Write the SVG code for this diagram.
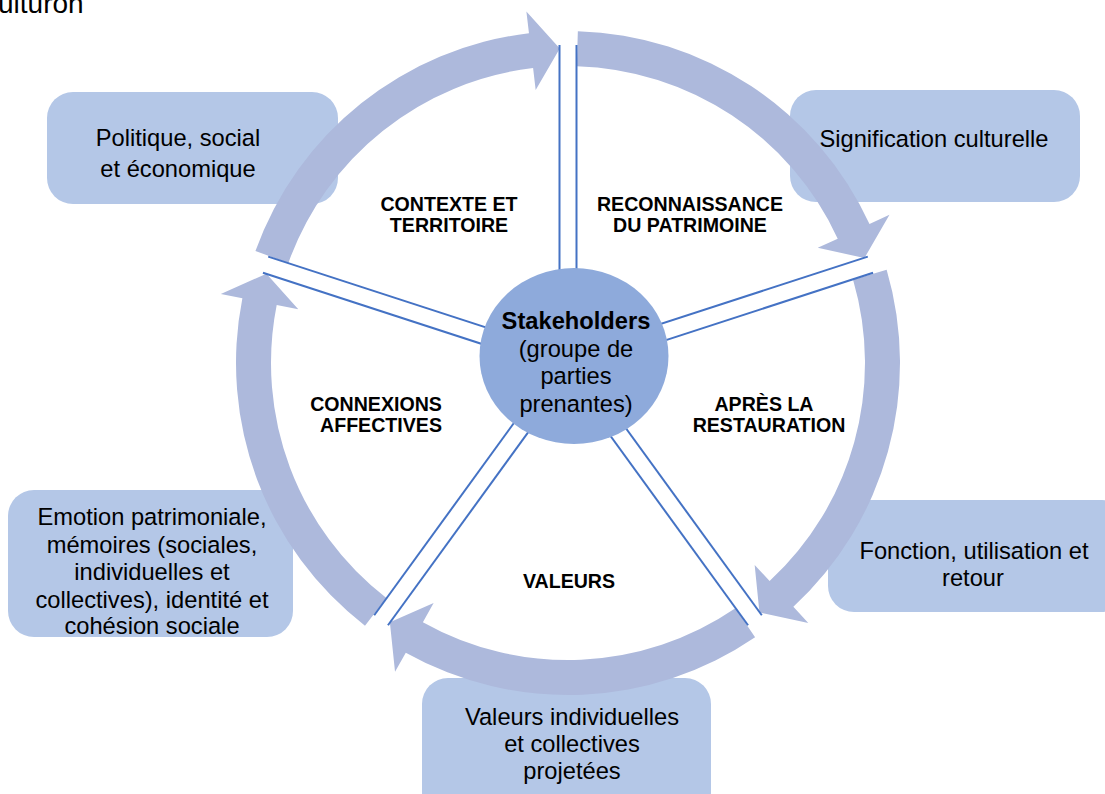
<svg xmlns="http://www.w3.org/2000/svg" xmlns:xlink="http://www.w3.org/1999/xlink" width="1105" height="794" viewBox="0 0 1105 794">
<defs>
<style>
.box{fill:#B4C7E7;}
.arrow{fill:#ADB9DC;}
.spoke{stroke:#4472C4;stroke-width:2;fill:none;}
.t{font-family:"Liberation Sans",Arial,sans-serif;font-size:23.7px;fill:#000;text-anchor:middle;}
.lbl{font-family:"Liberation Sans",Arial,sans-serif;font-size:19.6px;font-weight:bold;fill:#000;text-anchor:middle;}
.b{font-weight:bold;}
</style>
<path id="arr" class="arrow" d="M577.85,31.15 A332,332 0 0 1 869.50,224.0 L889.48,214.79 L864.46,258.02 L817.74,247.87 L837.72,238.66 A297,297 0 0 0 576.81,66.13 Z"/>
<g id="spk"><line class="spoke" x1="559.5" y1="45" x2="559.5" y2="363"/><line class="spoke" x1="576.5" y1="45" x2="576.5" y2="363"/></g>
</defs>
<rect width="1105" height="794" fill="#fff"/>
<text x="-2" y="13" style="font-family:'Liberation Sans',Arial,sans-serif;font-size:28px;fill:#000">ulturon</text>

<g id="box-politique"><rect class="box" x="47" y="92" width="291" height="112" rx="26"/><text class="t" x="178" y="146">Politique, social</text><text class="t" x="178" y="177">et économique</text></g>
<g id="box-signification"><rect class="box" x="790" y="90" width="290" height="112" rx="26"/><text class="t" x="934" y="147">Signification culturelle</text></g>
<g id="box-fonction"><rect class="box" x="828" y="500" width="300" height="112" rx="26"/><text class="t" x="974" y="559">Fonction, utilisation et</text><text class="t" x="973" y="586">retour</text></g>
<g id="box-valeurs"><rect class="box" x="422" y="678" width="289" height="140" rx="26"/><text class="t" x="572" y="725">Valeurs individuelles</text><text class="t" x="572" y="752">et collectives</text><text class="t" x="572" y="779">projetées</text></g>
<g id="box-emotion"><rect class="box" x="8" y="490" width="285" height="147" rx="26"/><text class="t" x="152" y="525">Emotion patrimoniale,</text><text class="t" x="152" y="553">mémoires (sociales,</text><text class="t" x="152" y="580">individuelles et</text><text class="t" x="152" y="608">collectives), identité et</text><text class="t" x="152" y="634">cohésion sociale</text></g>

<g id="connectors">
<use xlink:href="#arr"/>
<use xlink:href="#arr" transform="rotate(72 568 363)"/>
<use xlink:href="#arr" transform="rotate(144 568 363)"/>
<use xlink:href="#arr" transform="rotate(216 568 363)"/>
<use xlink:href="#arr" transform="rotate(288 568 363)"/>
<use xlink:href="#spk"/>
<use xlink:href="#spk" transform="rotate(72 568 363)"/>
<use xlink:href="#spk" transform="rotate(144 568 363)"/>
<use xlink:href="#spk" transform="rotate(216 568 363)"/>
<use xlink:href="#spk" transform="rotate(288 568 363)"/>
</g>

<g id="sector-labels">
<text class="lbl" x="449" y="211">CONTEXTE ET</text><text class="lbl" x="449" y="232">TERRITOIRE</text>
<text class="lbl" x="690" y="211">RECONNAISSANCE</text><text class="lbl" x="690" y="232">DU PATRIMOINE</text>
<text class="lbl" x="764" y="411">APRÈS LA</text><text class="lbl" x="769" y="432">RESTAURATION</text>
<text class="lbl" x="376" y="411">CONNEXIONS</text><text class="lbl" x="381" y="432">AFFECTIVES</text>
<text class="lbl" x="569" y="588">VALEURS</text>
</g>

<g id="stakeholders"><ellipse cx="574" cy="356" rx="94.5" ry="88" fill="#8EAADB"/>
<text class="t b" x="576" y="329">Stakeholders</text><text class="t" x="576" y="357">(groupe de</text><text class="t" x="576" y="384">parties</text><text class="t" x="576" y="412">prenantes)</text></g>
</svg>
